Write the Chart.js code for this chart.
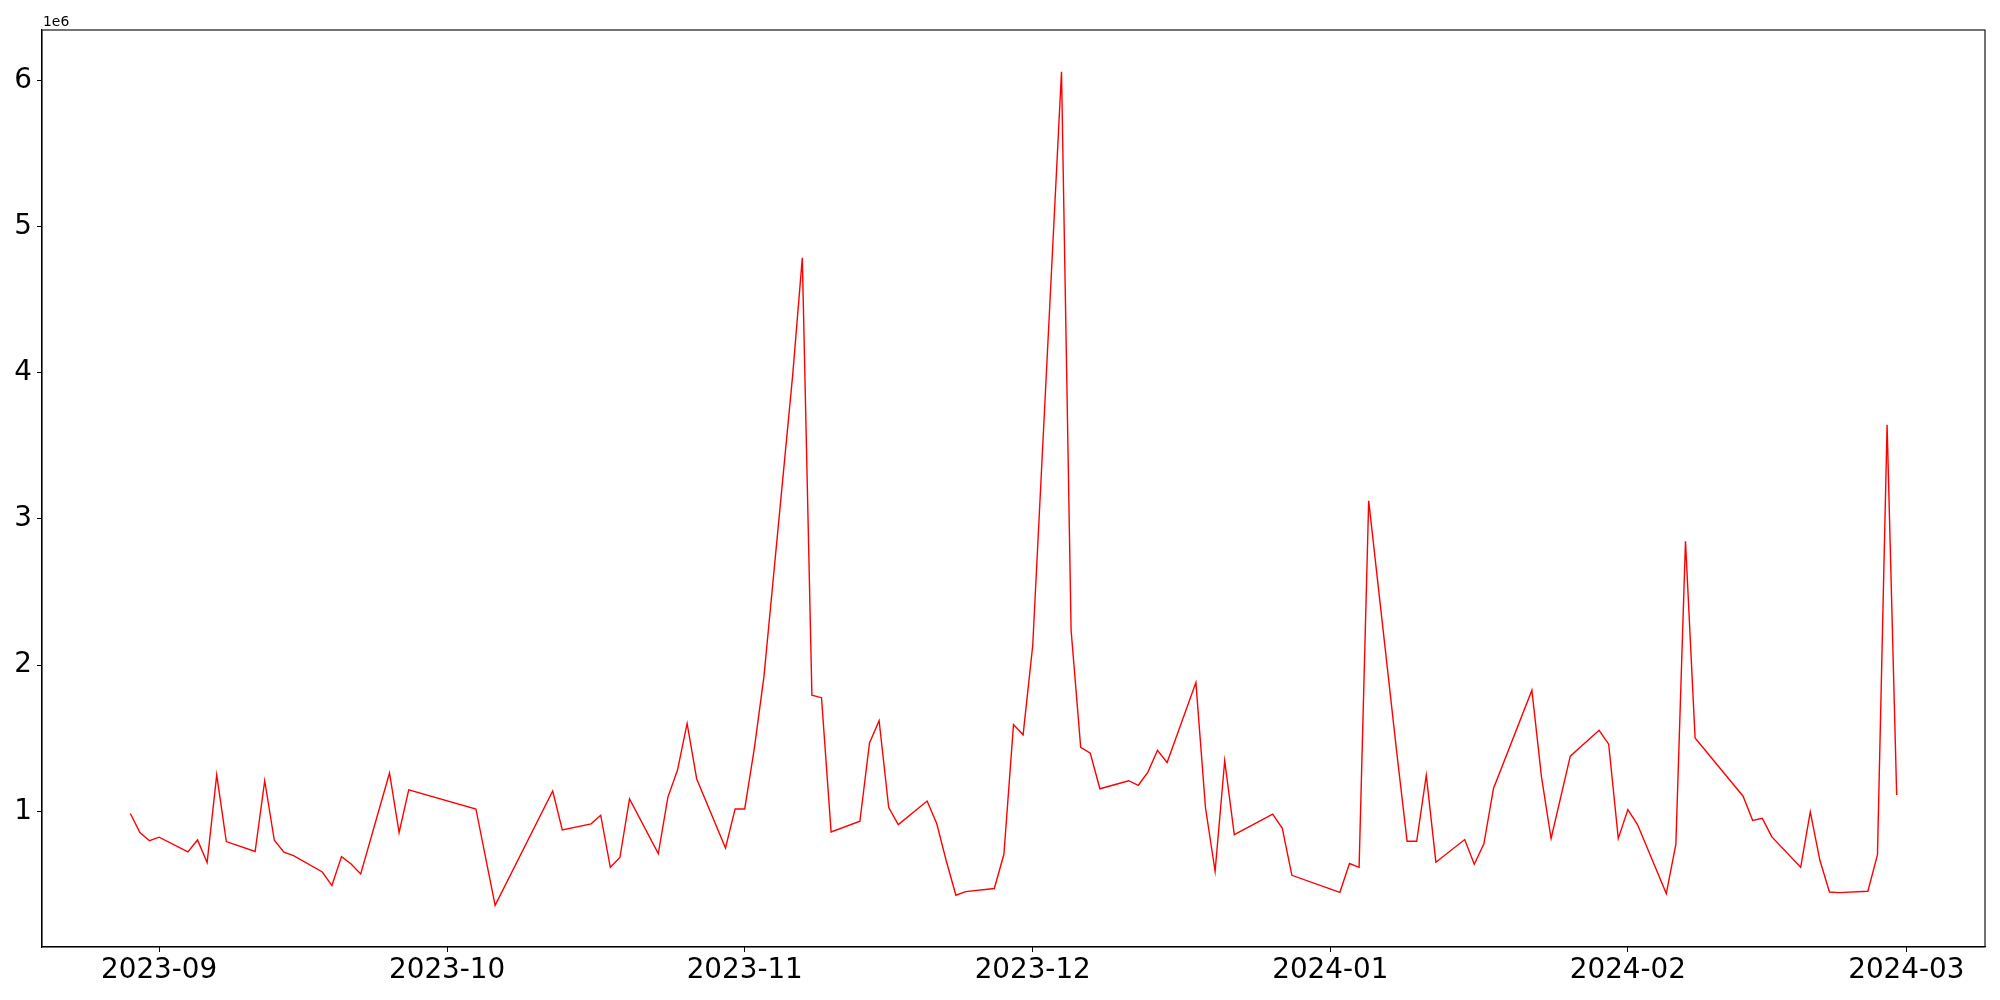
<!DOCTYPE html>
<html>
<head>
<meta charset="utf-8">
<script src="https://cdn.jsdelivr.net/npm/chart.js@4.4.1/dist/chart.umd.min.js"></script>
<style>
    body { margin: 0; background: #fff; }
    #wrap { width: 2000px; height: 1000px; position: relative; }
</style>
</head>
<body>
<div id="wrap"><canvas id="volumeChart"></canvas></div>
<script>
// Dates of each observation
const dates = [
    '2023-08-29', '2023-08-30', '2023-08-31', '2023-09-01', '2023-09-04', '2023-09-05', '2023-09-06',
    '2023-09-07', '2023-09-08', '2023-09-11', '2023-09-12', '2023-09-13', '2023-09-14', '2023-09-15',
    '2023-09-18', '2023-09-19', '2023-09-20', '2023-09-21', '2023-09-22', '2023-09-25', '2023-09-26',
    '2023-09-27', '2023-10-04', '2023-10-06', '2023-10-12', '2023-10-13', '2023-10-16', '2023-10-17',
    '2023-10-18', '2023-10-19', '2023-10-20', '2023-10-23', '2023-10-24', '2023-10-25', '2023-10-26',
    '2023-10-27', '2023-10-30', '2023-10-31', '2023-11-01', '2023-11-02', '2023-11-03', '2023-11-06',
    '2023-11-07', '2023-11-08', '2023-11-09', '2023-11-10', '2023-11-13', '2023-11-14', '2023-11-15',
    '2023-11-16', '2023-11-17', '2023-11-20', '2023-11-21', '2023-11-22', '2023-11-23', '2023-11-24',
    '2023-11-27', '2023-11-28', '2023-11-29', '2023-11-30', '2023-12-01', '2023-12-04', '2023-12-05',
    '2023-12-06', '2023-12-07', '2023-12-08', '2023-12-11', '2023-12-12', '2023-12-13', '2023-12-14',
    '2023-12-15', '2023-12-18', '2023-12-19', '2023-12-20', '2023-12-21', '2023-12-22', '2023-12-26',
    '2023-12-27', '2023-12-28', '2024-01-02', '2024-01-03', '2024-01-04', '2024-01-05', '2024-01-08',
    '2024-01-09', '2024-01-10', '2024-01-11', '2024-01-12', '2024-01-15', '2024-01-16', '2024-01-17',
    '2024-01-18', '2024-01-22', '2024-01-23', '2024-01-24', '2024-01-26', '2024-01-29', '2024-01-30',
    '2024-01-31', '2024-02-01', '2024-02-02', '2024-02-05', '2024-02-06', '2024-02-07', '2024-02-08',
    '2024-02-13', '2024-02-14', '2024-02-15', '2024-02-16', '2024-02-19', '2024-02-20', '2024-02-21',
    '2024-02-22', '2024-02-23', '2024-02-26', '2024-02-27', '2024-02-28', '2024-02-29'
];

// Series values
const values = [
    986000, 856000, 800000, 824000, 723000, 805000, 650000,
    1250000, 794000, 726000, 1210000, 803000, 721000, 698000,
    586000, 493000, 691000, 641000, 573000, 1263000, 856000,
    1147000, 1017000, 358000, 1140000, 873000, 915000, 974000,
    618000, 685000, 1086000, 712000, 1098000, 1283000, 1602000,
    1222000, 750000, 1017000, 1017000, 1430000, 1920000, 3986000,
    4786000, 1795000, 1778000, 860000, 933000, 1469000, 1620000,
    1026000, 910000, 1071000, 917000, 661000, 427000, 452000,
    473000, 707000, 1594000, 1524000, 2133000, 6059000, 2239000,
    1438000, 1398000, 1155000, 1210000, 1179000, 1269000, 1418000,
    1335000, 1881000, 1025000, 590000, 1347000, 841000, 982000,
    885000, 563000, 447000, 644000, 618000, 3124000, 1360000,
    796000, 796000, 1248000, 653000, 808000, 639000, 778000,
    1157000, 1829000, 1236000, 815000, 1378000, 1555000, 1460000,
    815000, 1013000, 910000, 438000, 777000, 2848000, 1503000,
    1104000, 938000, 953000, 826000, 618000, 997000, 666000,
    449000, 445000, 454000, 705000, 3644000, 1113000
];

// Tick labels
const monthTicks = ['2023-09', '2023-10', '2023-11', '2023-12', '2024-01', '2024-02', '2024-03'];
const yTicks = [1000000, 2000000, 3000000, 4000000, 5000000, 6000000];

const DAY = 86400000;
function toDay(str) {
    const p = str.split('-').map(Number);
    return Date.UTC(p[0], p[1] - 1, p[2] || 1) / DAY;
}

const points = dates.map((d, i) => ({ x: toDay(d), y: values[i] }));
const monthDays = monthTicks.map(toDay);

// matplotlib-like 5% margins
const xMinData = Math.min(...points.map(p => p.x));
const xMaxData = Math.max(...points.map(p => p.x));
const yMinData = Math.min(...values);
const yMaxData = Math.max(...values);
const xPad = (xMaxData - xMinData) * 0.05;
const yPad = (yMaxData - yMinData) * 0.05;

const tickFont = { family: 'DejaVu Sans', size: 27.8 };

// Draw remaining spines + offset text
const framePlugin = {
    id: 'frame',
    afterDraw(chart) {
        const { ctx, chartArea } = chart;
        ctx.save();
        ctx.strokeStyle = '#000';
        ctx.lineWidth = 1.1;
        ctx.strokeRect(chartArea.left, chartArea.top, chartArea.right - chartArea.left, chartArea.bottom - chartArea.top);
        ctx.fillStyle = '#000';
        ctx.font = '13.9px "DejaVu Sans"';
        ctx.textAlign = 'left';
        ctx.textBaseline = 'alphabetic';
        ctx.fillText('1e6', chartArea.left + 1, chartArea.top - 4);
        ctx.restore();
    }
};

const ctx = document.getElementById('volumeChart');
new Chart(ctx, {
    type: 'line',
    data: {
        datasets: [{
            data: points,
            borderColor: '#ff0000',
            borderWidth: 1.4,
            pointRadius: 0,
            tension: 0,
            fill: false
        }]
    },
    options: {
        responsive: true,
        maintainAspectRatio: false,
        animation: false,
        layout: {
            padding: { top: 30, right: 15, left: 0, bottom: 0 }
        },
        plugins: {
            legend: { display: false },
            tooltip: { enabled: false }
        },
        scales: {
            x: {
                type: 'linear',
                min: xMinData - xPad,
                max: xMaxData + xPad,
                afterBuildTicks: scale => {
                    scale.ticks = monthDays.map(v => ({ value: v }));
                },
                afterFit: scale => { scale.height = 53; },
                ticks: {
                    color: '#000',
                    font: tickFont,
                    padding: 2,
                    maxRotation: 0,
                    autoSkip: false,
                    callback: (value) => monthTicks[monthDays.indexOf(value)]
                },
                grid: {
                    drawOnChartArea: false,
                    drawTicks: true,
                    tickLength: 5,
                    tickColor: '#000'
                },
                border: { display: true, color: '#000', width: 1.1 }
            },
            y: {
                type: 'linear',
                min: yMinData - yPad,
                max: yMaxData + yPad,
                afterBuildTicks: scale => {
                    scale.ticks = yTicks.map(v => ({ value: v }));
                },
                afterFit: scale => { scale.width = 42; },
                ticks: {
                    color: '#000',
                    font: tickFont,
                    padding: 5,
                    callback: (value) => String(value / 1000000)
                },
                grid: {
                    drawOnChartArea: false,
                    drawTicks: true,
                    tickLength: 5,
                    tickColor: '#000'
                },
                border: { display: true, color: '#000', width: 1.1 }
            }
        }
    },
    plugins: [framePlugin]
});
</script>
</body>
</html>
